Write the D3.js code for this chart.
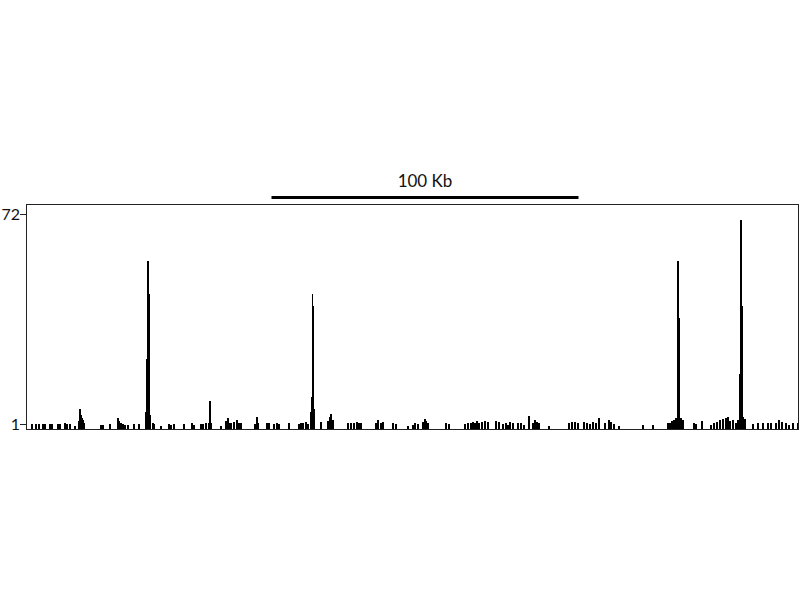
<!DOCTYPE html>
<html><head><meta charset="utf-8">
<script src="https://cdn.jsdelivr.net/npm/d3@7"></script>
<style>body{margin:0;background:#fff}</style>
</head><body>
<svg id="c" width="800" height="600"></svg>
<script>
// genomic positions (kb from window start) and signal values
const positions = [
 1.6,2.9,3.9,5.2,5.9,7.5,8.1,10.1,10.7,12.4,
 13.0,14.0,15.6,16.9,17.3,17.6,17.9,18.2,18.6,24.1,
 24.8,27.0,29.6,30.0,30.6,31.3,31.9,32.9,34.9,36.5,
 38.8,39.1,39.4,39.7,40.1,41.0,41.4,43.6,46.3,46.9,
 47.9,51.1,53.7,54.4,56.7,57.3,58.3,59.3,59.6,59.9,
 63.2,64.8,65.5,65.8,66.4,67.4,68.4,69.1,69.7,74.3,
 74.9,75.2,78.2,78.8,80.5,81.4,82.1,85.3,88.6,89.3,
 89.9,90.9,91.5,92.5,92.8,93.1,93.4,93.7,95.8,98.0,
 98.7,99.0,99.7,104.6,105.5,106.5,107.5,108.1,108.8,113.7,
 114.3,115.3,116.0,119.2,120.2,124.1,125.7,126.4,127.4,129.0,
 129.6,130.0,130.3,130.6,136.5,137.5,142.7,143.6,144.6,145.3,
 145.9,146.6,147.2,148.2,149.2,150.2,152.8,153.7,155.0,156.0,
 156.7,157.3,158.3,159.9,160.9,161.9,163.5,164.8,165.5,166.1,
 166.8,170.0,176.5,177.5,178.5,179.5,181.4,182.4,183.4,184.4,
 185.3,186.3,188.3,189.6,190.2,191.2,192.8,200.7,203.9,208.8,
 209.4,210.1,210.7,211.4,212.1,212.4,213.0,213.7,217.3,217.9,
 219.9,222.8,223.8,224.8,225.7,226.7,227.7,228.3,229.0,230.0,
 230.9,231.6,232.2,232.6,232.9,233.2,233.9,236.5,238.1,239.7,
 241.4,242.3,244.0,244.9,245.9,247.2,248.2,249.5,251.1];
const values = [
 1,1,1,1,1,1,1,1,1,1.2,
 1,1.1,0.3,2,6,4,3,2.5,1.5,0.5,
 0.5,1,3,2,1.2,1,0.8,0.8,1,1,
 5,23,56,45,4,1.2,1,0.3,1,0.8,
 1,1,1.2,0.8,1,1,1.2,1.5,8.7,1.5,
 0.3,2,3,1.5,1.2,1.8,2.5,1.5,1.2,1,
 3.5,1.5,1.2,1.2,1,1.2,1,1.2,1,1.5,
 1.3,1.8,1,5,10,45,41,6,1.8,2,
 3.5,4.4,2.5,1.2,1.5,1.2,1.6,1.3,1.2,1.4,
 2.5,1.3,1.6,1.2,1,0.3,0.8,1.2,1,1.8,
 2.7,2,1.3,1.2,1.2,1,1,1.3,1.5,1.6,
 1.2,1.9,1.5,1.7,2,1.6,2,1.8,1,1.3,
 0.8,1.7,1.3,1.5,1.2,0.7,3.8,1.5,2.5,1.6,
 1.2,0.3,1.2,1.6,1.8,1.2,1.8,1.2,1,1.6,
 1.2,3,1.5,2.2,1.6,1,0.4,0.5,0.5,1.3,
 1.5,2,2.2,3,56,37,3,2.5,1.2,1,
 2,0.8,1.2,1.8,2.2,2.6,3,3.4,2,2.5,
 1.5,2.5,18,70,41,3.2,2.8,1,1.2,1.2,
 1.2,1.4,1.2,2.5,1.8,1.2,0.8,1.2,1.2];
const yTicks = [1, 72];
const scaleBarKb = 100;
const scaleBarLabel = "100 Kb";

(function () {
  const svg = d3.select("#c");
  const pLeft = 26, pRight = 799, pTop = 204, pBottom = 429;
  const x = d3.scaleLinear().domain([0, 251.8]).range([pLeft, pRight]);
  const y = d3.scaleLinear().domain([1, 72]).range([424, 214]);
  const binKb = 0.55;

  const data = positions.map((p, i) => ({p, v: values[i]}));
  svg.append("g").attr("shape-rendering", "crispEdges")
    .selectAll("rect").data(data).join("rect")
    .attr("x", d => x(d.p))
    .attr("width", d => x(d.p + binKb) - x(d.p))
    .attr("y", d => y(d.v))
    .attr("height", d => pBottom - y(d.v))
    .attr("fill", "#000");

  // frame
  svg.append("rect").attr("x", pLeft + 0.5).attr("y", pTop + 0.5)
    .attr("width", pRight - pLeft - 1).attr("height", pBottom - pTop)
    .attr("fill", "none").attr("stroke", "#222").attr("stroke-width", 1);

  // y axis
  const ax = svg.append("g").attr("transform", `translate(${pLeft},0)`)
    .call(d3.axisLeft(y).tickValues(yTicks).tickSize(6).tickPadding(0));
  ax.select(".domain").remove();
  ax.selectAll("line").attr("stroke", "#222");
  ax.selectAll("text").attr("font-family", "Lato, 'Open Sans', sans-serif")
    .attr("font-size", 16).attr("fill", "#111");

  // scale bar
  const sx0 = 271.5, sbW = x(scaleBarKb) - x(0);
  svg.append("line").attr("x1", sx0).attr("x2", sx0 + sbW)
    .attr("y1", 197.5).attr("y2", 197.5).attr("stroke", "#000").attr("stroke-width", 3);
  svg.append("text").attr("x", sx0 + sbW / 2).attr("y", 187)
    .attr("text-anchor", "middle").attr("font-family", "Lato, 'Open Sans', sans-serif")
    .attr("font-size", 17).attr("fill", "#111").text(scaleBarLabel);
})();
</script>
</body></html>
